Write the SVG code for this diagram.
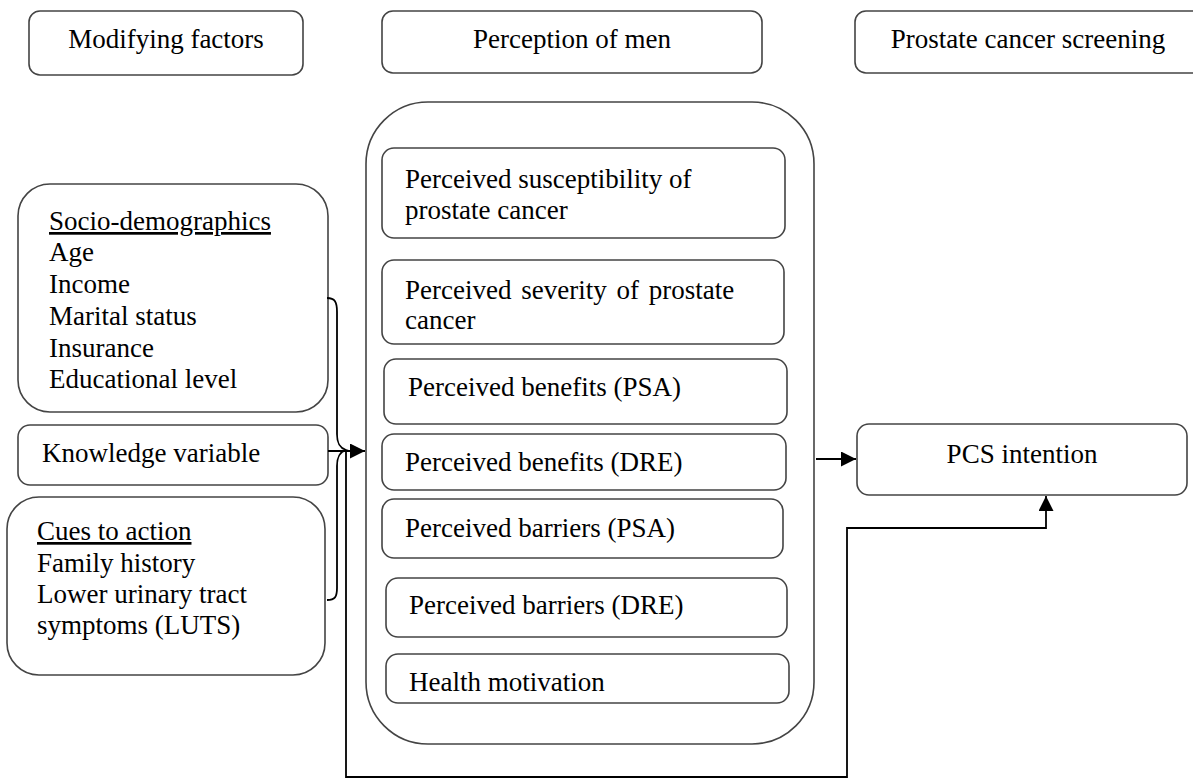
<svg xmlns="http://www.w3.org/2000/svg" width="1193" height="779" viewBox="0 0 1193 779">
<style>
text{font-family:"Liberation Serif","Times New Roman",serif;font-size:27px;fill:#000}
.c{text-anchor:middle}
.box{fill:#fff;stroke:#444;stroke-width:1.6}
.ln{fill:none;stroke:#000;stroke-width:1.8}
.u{text-decoration:underline}
</style>
<defs>
<marker id="ah" viewBox="0 0 10 10" refX="10" refY="5" markerWidth="8" markerHeight="8" markerUnits="userSpaceOnUse" orient="auto">
<path d="M0,0 L10,5 L0,10 z" fill="#000"/>
</marker>
<marker id="ahb" viewBox="0 0 10 10" refX="10" refY="5" markerWidth="15" markerHeight="15" markerUnits="userSpaceOnUse" orient="auto">
<path d="M0,0 L10,5 L0,10 z" fill="#000"/>
</marker>
</defs>
<rect width="1193" height="779" fill="#fff"/>

<g id="hdr-modifying"><rect class="box" x="29" y="11" width="274" height="64" rx="11"/><text class="c" x="166" y="48">Modifying factors</text></g>
<g id="hdr-perception"><rect class="box" x="382" y="11" width="380" height="62" rx="11"/><text class="c" x="572" y="48">Perception of men</text></g>
<g id="hdr-screening"><rect class="box" x="855" y="11" width="350" height="62" rx="11"/><text class="c" x="1028" y="48">Prostate cancer screening</text></g>

<g id="container"><rect class="box" x="366" y="102" width="448" height="642" rx="62"/></g>

<g id="susceptibility"><rect class="box" x="382" y="148" width="403" height="90" rx="12"/><text x="405" y="188">Perceived susceptibility of</text><text x="405" y="219">prostate cancer</text></g>
<g id="severity"><rect class="box" x="382" y="260" width="402" height="84" rx="12"/><text x="405" y="299" word-spacing="3">Perceived severity of prostate</text><text x="405" y="329">cancer</text></g>
<g id="benefits-psa"><rect class="box" x="384" y="359" width="403" height="65" rx="12"/><text x="408" y="396">Perceived benefits (PSA)</text></g>
<g id="benefits-dre"><rect class="box" x="382" y="434" width="404" height="56" rx="12"/><text x="405" y="471">Perceived benefits (DRE)</text></g>
<g id="barriers-psa"><rect class="box" x="382" y="499" width="401" height="59" rx="12"/><text x="405" y="537">Perceived barriers (PSA)</text></g>
<g id="barriers-dre"><rect class="box" x="386" y="578" width="401" height="59" rx="12"/><text x="409" y="614">Perceived barriers (DRE)</text></g>
<g id="health-motivation"><rect class="box" x="386" y="654" width="403" height="49" rx="12"/><text x="409" y="691">Health motivation</text></g>

<g id="socio"><rect class="box" x="18" y="184" width="310" height="228" rx="32"/>
<text x="49" y="230" class="u">Socio-demographics</text>
<text x="49" y="261">Age</text>
<text x="49" y="293">Income</text>
<text x="49" y="325">Marital status</text>
<text x="49" y="357">Insurance</text>
<text x="49" y="388">Educational level</text></g>
<g id="knowledge"><rect class="box" x="18" y="425" width="310" height="60" rx="12"/><text x="42" y="462">Knowledge variable</text></g>
<g id="cues"><rect class="box" x="7" y="497" width="318" height="178" rx="32"/>
<text x="37" y="540" class="u">Cues to action</text>
<text x="37" y="572">Family history</text>
<text x="37" y="603">Lower urinary tract</text>
<text x="37" y="634">symptoms (LUTS)</text></g>

<g id="pcs-intention"><rect class="box" x="857" y="424" width="330" height="71" rx="12"/><text class="c" x="1022" y="463">PCS intention</text></g>

<g id="connectors">
<path class="ln" d="M327,298 C335,298 337,302 337,312 L337,434 C337,444 340,448 346,450 C340,452 337,456 337,466 L337,588 C337,597 335,600 327,600"/>
<path class="ln" d="M328,451 L365,451" marker-end="url(#ahb)"/>
<path class="ln" d="M346,451 L346,777 L847,777 L847,528 L1046,528 L1046,496" marker-end="url(#ahb)"/>
<path class="ln" d="M816,459 L856,459" marker-end="url(#ahb)"/>
</g>
</svg>
